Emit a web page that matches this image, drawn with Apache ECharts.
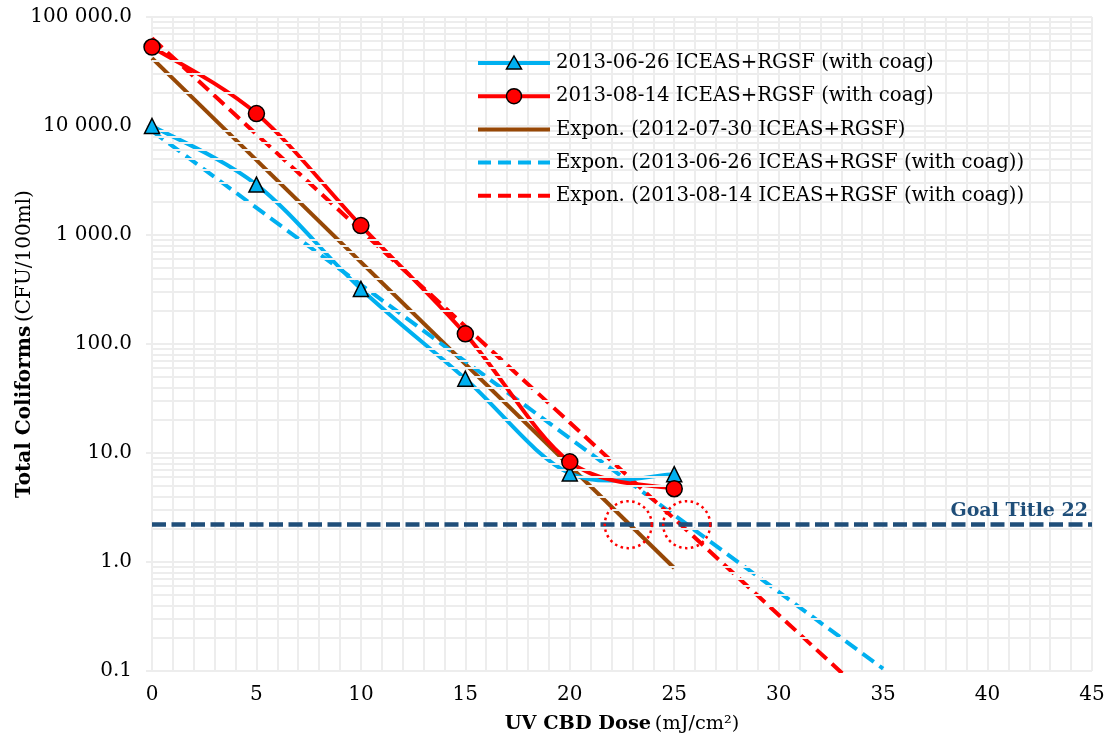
<!DOCTYPE html>
<html><head><meta charset="utf-8">
<script src="https://cdn.jsdelivr.net/npm/echarts@6/dist/echarts.min.js"></script>
<style>html,body{margin:0;padding:0;background:#fff}#c{width:1110px;height:740px}</style>
</head><body><div id="c"></div>
<script>
// ---- data ----
const dose = [0, 5, 10, 15, 20, 25];
const coliJune2013 = [10000, 2900, 320, 48, 6.5, 6.4];
const coliAug2013 = [53000, 13000, 1220, 124, 8.3, 4.7];
const trendJul2012X = [0, 25];
const trendJul2012Y = [42000, 0.88];
const trendJune2013X = [0, 35];
const trendJune2013Y = [9000, 0.105];
const trendAug2013X = [0, 35];
const trendAug2013Y = [64000, 0.043];
const goalValue = 2.2;
const goalLabel = 'Goal Title 22';
const goalCircleX = [22.8, 25.6];
const seriesNames = [
  '2013-06-26 ICEAS+RGSF (with coag)',
  '2013-08-14 ICEAS+RGSF (with coag)',
  'Expon. (2012-07-30 ICEAS+RGSF)',
  'Expon. (2013-06-26 ICEAS+RGSF (with coag))',
  'Expon. (2013-08-14 ICEAS+RGSF (with coag))'
];
const yDecades = [-1, 0, 1, 2, 3, 4];

// ---- helpers ----
const FONT = 'DejaVu Serif';
const CYAN = '#00B0F0', RED = '#FF0000', BROWN = '#974806', NAVY = '#1F4E79', GRID = '#EDEDED';
const zip = (xs, ys) => xs.map((x, i) => [x, ys[i]]);
function fmt(v) {
  const s = Number(v).toFixed(1);
  const parts = s.split('.');
  return parts[0].replace(/\B(?=(\d{3})+(?!\d))/g, ' ') + '.' + parts[1];
}
const minorGrid = [];
yDecades.forEach(d => { for (let m = 2; m <= 9; m++) minorGrid.push({ yAxis: m * Math.pow(10, d) }); });

// Excel-like smoothed line (Catmull-Rom bezier) drawn from data via the axes' scales
function smoothLine(name, xs, ys, color, z) {
  return {
    name: name + ' (line)', type: 'custom', z: z, silent: true, clip: true,
    data: zip(xs, ys), encode: { x: 0, y: 1 },
    renderItem: function (params, api) {
      if (params.dataIndex !== 0) return null;
      const p = xs.map((x, i) => api.coord([x, ys[i]]));
      let d = 'M' + p[0][0] + ' ' + p[0][1];
      for (let i = 0; i < p.length - 1; i++) {
        const p0 = p[Math.max(i - 1, 0)], p1 = p[i], p2 = p[i + 1], p3 = p[Math.min(i + 2, p.length - 1)];
        const c1 = [p1[0] + (p2[0] - p0[0]) / 6, p1[1] + (p2[1] - p0[1]) / 6];
        const c2 = [p2[0] - (p3[0] - p1[0]) / 6, p2[1] - (p3[1] - p1[1]) / 6];
        d += ' C' + c1[0] + ' ' + c1[1] + ' ' + c2[0] + ' ' + c2[1] + ' ' + p2[0] + ' ' + p2[1];
      }
      return { type: 'path', shape: { pathData: d }, style: { fill: null, stroke: color, lineWidth: 4, lineCap: 'round', lineJoin: 'round' } };
    }
  };
}

// legend drawn as graphic elements (real text)
const legendStyles = [
  { color: CYAN, dash: null, symbol: 'triangle' },
  { color: RED, dash: null, symbol: 'circle' },
  { color: BROWN, dash: null, symbol: null },
  { color: CYAN, dash: [13, 7], symbol: null },
  { color: RED, dash: [13, 7], symbol: null }
];
const legendGraphics = [];
seriesNames.forEach((n, i) => {
  const st = legendStyles[i];
  const y = 63 + 33.2 * i;
  legendGraphics.push({ type: 'line', shape: { x1: 478, y1: y, x2: 550, y2: y },
    style: { stroke: st.color, lineWidth: 4, lineDash: st.dash }, silent: true, z: 10 });
  if (st.symbol === 'triangle') {
    legendGraphics.push({ type: 'polygon', shape: { points: [[514, y - 7], [521.5, y + 6], [506.5, y + 6]] },
      style: { fill: st.color, stroke: '#000', lineWidth: 1.5 }, silent: true, z: 11 });
  } else if (st.symbol === 'circle') {
    legendGraphics.push({ type: 'circle', shape: { cx: 514, cy: y, r: 7.5 },
      style: { fill: st.color, stroke: '#000', lineWidth: 1.5 }, silent: true, z: 11 });
  }
  legendGraphics.push({ type: 'text', x: 556, y: y, silent: true, z: 11,
    style: { text: n, font: '19.7px "DejaVu Serif"', fill: '#000', verticalAlign: 'middle', align: 'left' } });
});

const chart = echarts.init(document.getElementById('c'), null, { renderer: 'canvas' });
chart.setOption({
  animation: false,
  backgroundColor: '#fff',
  textStyle: { fontFamily: FONT },
  grid: { left: 152, right: 18, top: 17, bottom: 69, containLabel: false, outerBoundsMode: 'none' },
  graphic: legendGraphics,
  xAxis: {
    type: 'value', min: 0, max: 45, interval: 5,
    name: '{b|UV CBD Dose} {r|(mJ/cm²)}', nameLocation: 'middle', nameGap: 43, nameMoveOverlap: false,
    nameTextStyle: { rich: { b: { fontFamily: FONT, fontWeight: 'bold', fontSize: 19.3, color: '#000' }, r: { fontFamily: FONT, fontSize: 19.3, color: '#000' } } },
    axisLine: { show: false }, axisTick: { show: false },
    axisLabel: { fontFamily: FONT, fontSize: 20, color: '#000', margin: 14 },
    splitLine: { show: true, lineStyle: { color: GRID, width: 2 } },
    minorTick: { show: false, splitNumber: 5 },
    minorSplitLine: { show: true, lineStyle: { color: GRID, width: 2 } }
  },
  yAxis: {
    type: 'log', logBase: 10, min: 0.1, max: 100000,
    name: '{b|Total Coliforms} {r|(CFU/100ml)}', nameLocation: 'middle', nameGap: 117, nameMoveOverlap: false,
    nameTextStyle: { rich: { b: { fontFamily: FONT, fontWeight: 'bold', fontSize: 20, color: '#000' }, r: { fontFamily: FONT, fontSize: 20, color: '#000' } } },
    axisLine: { show: false },
    axisTick: { show: true, length: 6, lineStyle: { color: GRID, width: 2 } },
    axisLabel: { fontFamily: FONT, fontSize: 20, color: '#000', margin: 20, formatter: fmt },
    splitLine: { show: true, lineStyle: { color: GRID, width: 2 } }
  },
  series: [
    {
      name: 'minorGrid', type: 'line', data: [], z: 0, silent: true,
      markLine: { silent: true, symbol: 'none', animation: false, label: { show: false },
        lineStyle: { color: GRID, width: 2, type: 'solid' }, data: minorGrid }
    },
    {
      name: 'goal', type: 'line', data: [], z: 2, silent: true,
      markLine: {
        silent: true, symbol: 'none', animation: false,
        lineStyle: { color: NAVY, width: 4.5, type: [14, 5.5] },
        label: { show: true, position: 'insideEndTop', formatter: goalLabel, distance: [4, 4],
          fontFamily: FONT, fontWeight: 'bold', fontSize: 19, color: NAVY },
        data: [{ yAxis: goalValue }]
      }
    },
    {
      name: seriesNames[2], type: 'line', data: zip(trendJul2012X, trendJul2012Y),
      symbol: 'none', color: BROWN, lineStyle: { width: 4, color: BROWN }, z: 3
    },
    {
      name: seriesNames[3], type: 'line', data: zip(trendJune2013X, trendJune2013Y),
      symbol: 'none', color: CYAN, lineStyle: { width: 4, color: CYAN, type: [14, 7] }, z: 3
    },
    {
      name: seriesNames[4], type: 'line', data: zip(trendAug2013X, trendAug2013Y),
      symbol: 'none', color: RED, lineStyle: { width: 4, color: RED, type: [14, 7] }, z: 3
    },
    smoothLine(seriesNames[0], dose, coliJune2013, CYAN, 4),
    smoothLine(seriesNames[1], dose, coliAug2013, RED, 4),
    {
      name: seriesNames[0], type: 'scatter', data: zip(dose, coliJune2013),
      symbol: 'triangle', symbolSize: 15, z: 6,
      itemStyle: { color: CYAN, borderColor: '#000', borderWidth: 1.5, opacity: 1 }
    },
    {
      name: seriesNames[1], type: 'scatter', data: zip(dose, coliAug2013),
      symbol: 'circle', symbolSize: 16, z: 6,
      itemStyle: { color: RED, borderColor: '#000', borderWidth: 1.5, opacity: 1 }
    },
    {
      name: 'circles', type: 'scatter', data: goalCircleX.map(x => [x, goalValue]), z: 7,
      symbol: 'circle', symbolSize: 47, silent: true,
      itemStyle: { color: 'rgba(0,0,0,0)', borderColor: RED, borderWidth: 2.5, borderType: [2.5, 3.5], opacity: 1 }
    }
  ]
});
</script></body></html>
